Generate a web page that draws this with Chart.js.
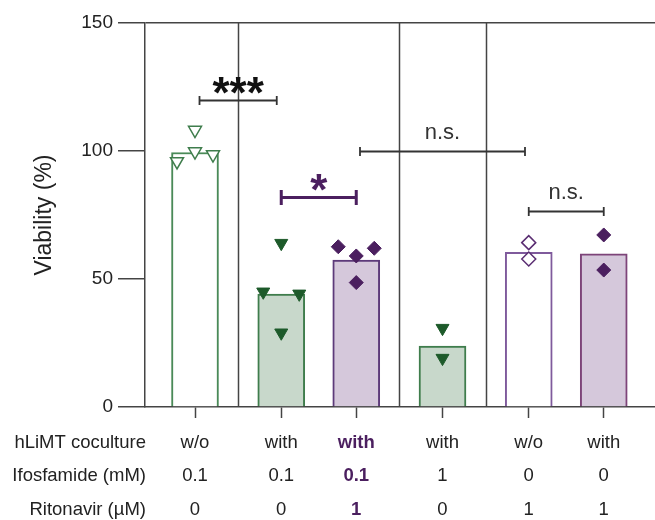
<!DOCTYPE html>
<html>
<head>
<meta charset="utf-8">
<script src="https://cdn.jsdelivr.net/npm/chart.js@4.4.1/dist/chart.umd.min.js"></script>
<style>
  html, body { margin: 0; padding: 0; background: #fff; overflow: hidden; }
  #wrap { width: 655px; height: 520px; }
</style>
</head>
<body>
<div id="wrap"><canvas id="viabilityChart"></canvas></div>
<script>
// Table rows under the x axis
const rowTitles = ['hLiMT coculture', 'Ifosfamide (mM)', 'Ritonavir (µM)'];
const coculture = ['w/o', 'with', 'with', 'with', 'w/o', 'with'];
const ifosfamide = ['0.1', '0.1', '0.1', '1', '0', '0'];
const ritonavir = ['0', '0', '1', '0', '1', '1'];

// bar = mean viability, replicates = single wells
const viability = [99.4, 44.1, 57.4, 23.8, 60.4, 59.8];
const replicates = [
  [95.9, 99.8, 98.6, 108.2],
  [45.0, 64.0, 44.2, 29.0],
  [62.6, 59.0, 62.0, 48.6],
  [30.8, 19.1],
  [64.2, 57.8],
  [67.2, 53.5]
];
// which panel each bar sits in (panels split by vertical lines)
const panel = [0, 1, 1, 2, 3, 3];
const highlight = 2; // bold purple column

// significance brackets: bar index from/to, height (%), label
const brackets = [
  { from: 0, to: 1, y: 120, label: '***', inset: 0.06 },
  { from: 1, to: 2, y: 82, label: '*', inset: 0 },
  { from: 2, to: 4, y: 100, label: 'n.s.', inset: 0.05 },
  { from: 4, to: 5, y: 76.7, label: 'n.s.', inset: 0 }
];

const GREEN = '#3f7d4c', GREEN_DARK = '#1d5a2a', GREEN_FILL = '#c8d8cb';
const PURPLE = '#4b1f5f', PURPLE_FILL = '#d5c8db';
const FONT = "'Liberation Sans', Arial, sans-serif";

// x positions: unit spacing inside a panel, a bit more between panels
const xPos = [];
panel.forEach((p, i) => {
  if (i === 0) xPos.push(0);
  else xPos.push(xPos[i - 1] + 1 + (p !== panel[i - 1] ? 0.15 : 0));
});

// spread replicates of similar value side by side
function spread(vals, i) {
  const order = vals.map((v, k) => k).sort((a, b) => vals[a] - vals[b]);
  const rows = [];
  order.forEach(k => {
    const last = rows[rows.length - 1];
    if (last && vals[k] - vals[last[last.length - 1]] < 5) last.push(k);
    else rows.push([k]);
  });
  const pts = [];
  rows.forEach(r => {
    r.sort((a, b) => a - b);
    r.forEach((k, j) => {
      const slot = r.length === 2 ? (j === 0 ? -1 : 1) : j - (r.length - 1) / 2;
      pts.push({ x: xPos[i] + slot * 0.24, y: vals[k] });
    });
  });
  return pts;
}

const pointSets = replicates.map((vals, i) => spread(vals, i));
const pick = idx => idx.flatMap(i => pointSets[i]);

const barFill = ['#ffffff', GREEN_FILL, PURPLE_FILL, GREEN_FILL, '#ffffff', PURPLE_FILL];
const barLine = ['#4a8a58', GREEN, '#5d3a7a', GREEN, '#7f5a9c', '#7d4479'];

const panelLines = {
  id: 'panelLines',
  beforeDatasetsDraw(chart) {
    const { ctx, chartArea, scales: { x } } = chart;
    ctx.save();
    ctx.strokeStyle = '#444';
    ctx.lineWidth = 1.5;
    for (let i = 1; i < panel.length; i++) {
      if (panel[i] === panel[i - 1]) continue;
      const px = Math.round(x.getPixelForValue((xPos[i] + xPos[i - 1]) / 2)) + 0.5;
      ctx.beginPath();
      ctx.moveTo(px, chartArea.top);
      ctx.lineTo(px, chartArea.bottom);
      ctx.stroke();
    }
    ctx.restore();
  },
  afterDatasetsDraw(chart) {
    const { ctx, scales: { x, y } } = chart;
    ctx.save();
    brackets.forEach(b => {
      const star = b.label.indexOf('*') >= 0;
      const purple = b.from === 1 && b.to === 2;
      const x1 = x.getPixelForValue(xPos[b.from] + b.inset);
      const x2 = x.getPixelForValue(xPos[b.to] - b.inset);
      const py = Math.round(y.getPixelForValue(b.y)) + 0.5;
      const cap = purple ? 7.5 : 4.5;
      ctx.strokeStyle = purple ? PURPLE : '#333';
      ctx.lineWidth = purple ? 3 : 1.8;
      ctx.beginPath();
      ctx.moveTo(x1, py); ctx.lineTo(x2, py);
      ctx.moveTo(x1, py - cap); ctx.lineTo(x1, py + cap);
      ctx.moveTo(x2, py - cap); ctx.lineTo(x2, py + cap);
      ctx.stroke();
      ctx.font = star ? 'bold 44px ' + FONT : '22px ' + FONT;
      ctx.fillStyle = purple ? PURPLE : (star ? '#111' : '#333');
      ctx.textAlign = 'center';
      ctx.textBaseline = 'alphabetic';
      const m = ctx.measureText(b.label);
      const cy = py - (star ? 15 : 18.5);
      const base = cy + (m.actualBoundingBoxAscent - m.actualBoundingBoxDescent) / 2;
      ctx.fillText(b.label, (x1 + x2) / 2, base);
    });
    ctx.restore();
  },
  afterDraw(chart) {
    const { ctx, chartArea } = chart;
    ctx.save();
    ctx.font = '18.5px ' + FONT;
    ctx.fillStyle = '#222';
    ctx.textAlign = 'right';
    ctx.textBaseline = 'middle';
    rowTitles.forEach((t, i) => {
      ctx.fillText(t, 146, chartArea.bottom + 11 + 8 + 33.5 * (i + 0.5));
    });
    ctx.restore();
  }
};

new Chart(document.getElementById('viabilityChart'), {
  type: 'bar',
  data: {
    datasets: [
      {
        type: 'scatter',
        data: pick([0]),
        pointStyle: 'triangle',
        rotation: 180,
        radius: 7.5,
        backgroundColor: '#ffffff',
        borderColor: GREEN,
        borderWidth: 1.5,
        order: 0
      },
      {
        type: 'scatter',
        data: pick([1, 3]),
        pointStyle: 'triangle',
        rotation: 180,
        radius: 7.5,
        backgroundColor: GREEN_DARK,
        borderColor: GREEN_DARK,
        borderWidth: 1,
        order: 0
      },
      {
        type: 'scatter',
        data: pick([2, 5]),
        pointStyle: 'rectRot',
        radius: 7,
        backgroundColor: PURPLE,
        borderColor: PURPLE,
        borderWidth: 1,
        order: 0
      },
      {
        type: 'scatter',
        data: pick([4]),
        pointStyle: 'rectRot',
        radius: 7,
        backgroundColor: '#ffffff',
        borderColor: '#5a2d72',
        borderWidth: 1.5,
        order: 0
      },
      {
        type: 'bar',
        data: viability.map((v, i) => ({ x: xPos[i], y: v })),
        backgroundColor: barFill,
        borderColor: barLine,
        borderWidth: 2,
        borderSkipped: 'bottom',
        barThickness: 47,
        grouped: false,
        order: 1
      }
    ]
  },
  options: {
    responsive: true,
    maintainAspectRatio: false,
    animation: false,
    layout: { autoPadding: false, padding: { top: 23, left: 0, right: 0, bottom: 0 } },
    plugins: {
      legend: { display: false },
      tooltip: { enabled: false }
    },
    scales: {
      x: {
        type: 'linear',
        min: xPos[0] - 50 / 75,
        max: xPos[0] + 460 / 75,
        offset: false,
        afterBuildTicks: s => { s.ticks = xPos.map(v => ({ value: v })); },
        afterFit: s => { s.height = 113; s.paddingLeft = 0; s.paddingRight = 0; },
        grid: {
          display: true,
          drawOnChartArea: false,
          drawTicks: true,
          tickLength: 11,
          tickColor: '#444',
          tickWidth: 1.5,
          offset: false
        },
        border: { display: true, color: '#444', width: 1.5 },
        ticks: {
          autoSkip: false,
          maxRotation: 0,
          padding: 8,
          callback: (v, i) => [coculture[i], ifosfamide[i], ritonavir[i]],
          color: c => c.index === highlight ? PURPLE : '#222',
          font: c => ({ family: FONT, size: 18.5, lineHeight: 33.5 / 18.5, weight: c.index === highlight ? 'bold' : 'normal' })
        }
      },
      y: {
        min: 0,
        max: 150,
        afterFit: s => { s.width = 145; s.paddingTop = 0; s.paddingBottom = 0; },
        ticks: {
          stepSize: 50,
          padding: 5,
          color: '#222',
          font: { family: FONT, size: 19 }
        },
        grid: {
          color: c => c.tick && c.tick.value === 150 ? '#444' : 'rgba(0,0,0,0)',
          lineWidth: 1.5,
          tickColor: '#444',
          tickLength: 27,
          tickWidth: 1.5
        },
        border: { display: true, color: '#444', width: 1.5 },
        title: {
          display: true,
          text: 'Viability (%)',
          color: '#222',
          font: { family: FONT, size: 23 },
          padding: { top: 31, bottom: 0 }
        }
      }
    }
  },
  plugins: [panelLines]
});
</script>
</body>
</html>
